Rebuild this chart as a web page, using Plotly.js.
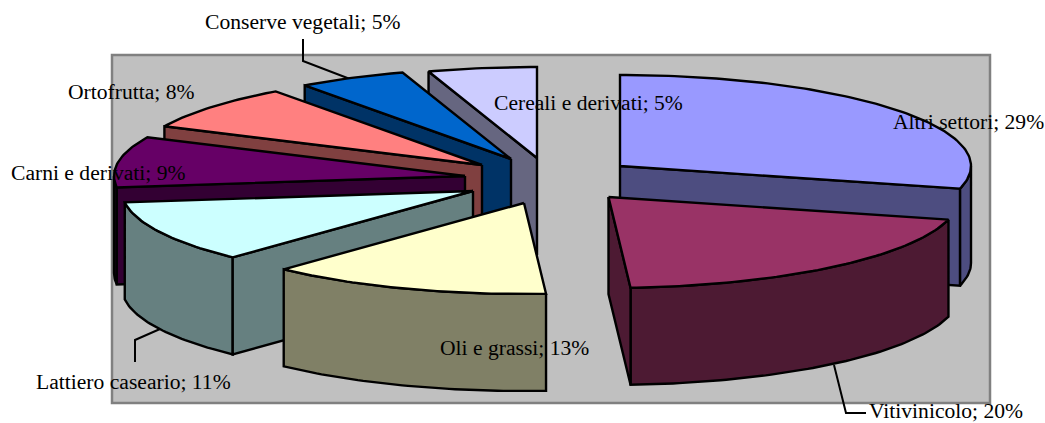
<!DOCTYPE html>
<html>
<head>
<meta charset="utf-8">
<script src="https://cdn.plot.ly/plotly-3.0.1.min.js"></script>
<style>html,body{margin:0;padding:0;background:#fff;}#chart{width:1045px;height:423px;}</style>
</head>
<body>
<div id="chart"></div>
<script>
// Data, clockwise from 12 o'clock
const categories = ["Altri settori","Vitivinicolo","Oli e grassi","Lattiero caseario","Carni e derivati","Ortofrutta","Conserve vegetali","Cereali e derivati"];
const values = [29,20,13,11,9,8,5,5];
// Styles
const topColors = ["#9999FF","#993366","#FFFFCC","#CCFFFF","#660066","#FF8080","#0066CC","#CCCCFF"];
const sideColors = ["#4D4D80","#4D1A33","#808066","#668080","#330033","#804040","#003366","#666680"];
// Layout: exploded apex of each slice, in page pixels
const apexX = [620,608.5,524,473,465,482,511,537];
const apexY = [166,197,203,191,176,165,159,158];
const rx = 351, ry = 91, depth = 97;
const drawOrder = [7,6,5,4,3,2,0,1];
// Label anchor positions
const labelX = [893,869,440,36,11,68,205,494];
const labelY = [122,410.5,348,382,173,92,22,103];
const fontSize = 21.6;

const rad = d => d*Math.PI/180;
const px = (i,t) => apexX[i] + rx*Math.sin(rad(t));
const py = (i,t,dz) => apexY[i] - ry*Math.cos(rad(t)) + (dz||0);
function range(a,b){const o=[];const n=Math.max(1,Math.ceil(Math.abs(b-a)));for(let k=0;k<=n;k++)o.push(a+(b-a)*k/n);return o;}

let acc = 0;
const starts = values.map(v=>{const s=acc;acc+=v*3.6;return s;});
const traces = [];
function poly(xs,ys,fill){
  traces.push({type:"scatter",mode:"lines",x:xs.concat([xs[0]]),y:ys.concat([ys[0]]),fill:"toself",fillcolor:fill,
    line:{color:"#000",width:2.4},hoverinfo:"skip",showlegend:false});
}
drawOrder.forEach(i=>{
  const s=starts[i], e=s+values[i]*3.6;
  const ax=apexX[i], ay=apexY[i];
  // outer wall
  const a=Math.max(s,90), b=Math.min(e,270);
  if(b>a){
    const ts=range(a,b);
    const rev=ts.slice().reverse();
    poly(ts.map(t=>px(i,t)).concat(rev.map(t=>px(i,t))),
         ts.map(t=>py(i,t)).concat(rev.map(t=>py(i,t,depth))), sideColors[i]);
  }
  // cut faces
  const sv=Math.sin(rad(s));
  if(sv<-1e-6){
    poly([ax,px(i,s),px(i,s),ax],[ay,py(i,s),py(i,s,depth),ay+depth],sideColors[i]);
  }
  const ev=Math.sin(rad(e));
  if(ev>1e-6){
    poly([ax,px(i,e),px(i,e),ax],[ay,py(i,e),py(i,e,depth),ay+depth],sideColors[i]);
  }
  // top
  const ts=range(s,e);
  poly([ax].concat(ts.map(t=>px(i,t))),[ay].concat(ts.map(t=>py(i,t))),topColors[i]);
});

const annotations = categories.map((c,i)=>({
  text:c+"; "+values[i]+"%",x:labelX[i],y:labelY[i],xref:"x",yref:"y",xanchor:"left",yanchor:"middle",
  showarrow:false,font:{family:"'Liberation Serif','Times New Roman',serif",size:fontSize,color:"#000"},borderpad:0,
  xshift:-1
}));

const leader = d => ({type:"path",path:d,layer:"below",line:{color:"#000",width:2},xref:"x",yref:"y"});
const layout = {
  width:1045,height:423,margin:{l:0,r:0,t:0,b:0},paper_bgcolor:"#fff",plot_bgcolor:"#fff",showlegend:false,
  xaxis:{range:[0,1045],visible:false,fixedrange:true},
  yaxis:{range:[423,0],visible:false,fixedrange:true},
  shapes:[
    {type:"rect",x0:112,x1:990,y0:55,y1:403,xref:"x",yref:"y",layer:"below",fillcolor:"#C0C0C0",line:{color:"#808080",width:2.5}},
    leader("M303,39 L303,61 L350,79"),
    leader("M160,329 L135,340 L135,362"),
    leader("M834,365 L846,413 L866,413")
  ],
  annotations
};
Plotly.newPlot("chart",traces,layout,{staticPlot:true,displayModeBar:false});
</script>
</body>
</html>
